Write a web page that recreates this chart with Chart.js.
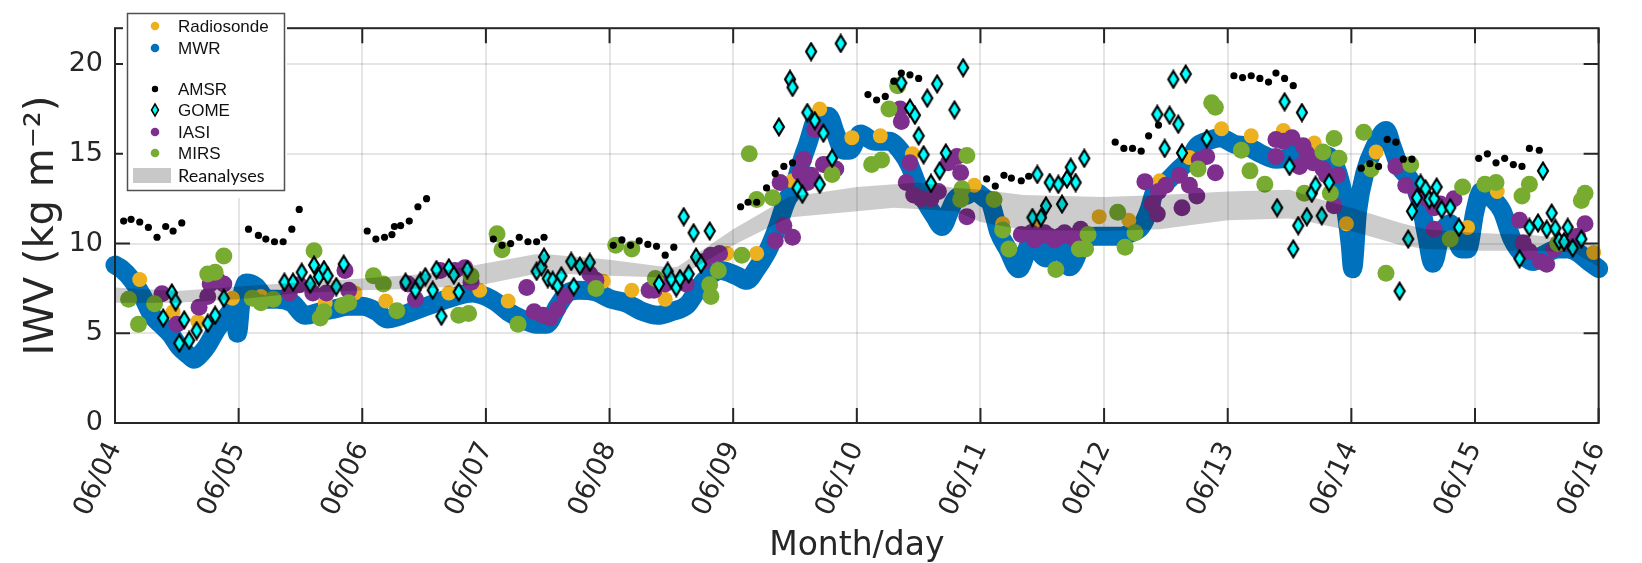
<!DOCTYPE html>
<html>
<head>
<meta charset="utf-8">
<title>IWV</title>
<script src="https://cdn.jsdelivr.net/npm/chart.js@4.4.0/dist/chart.umd.min.js"></script>
<style>
  html, body { margin: 0; padding: 0; background: #fff; }
</style>
</head>
<body>
<canvas id="iwvChart" width="1642" height="563"></canvas>
<script>
// x values are days since 06/04 00:00, y values are IWV in kg m^-2
const dayLabels = ['06/04', '06/05', '06/06', '06/07', '06/08', '06/09', '06/10',
                   '06/11', '06/12', '06/13', '06/14', '06/15', '06/16'];
const iwvTicks = [0, 5, 10, 15, 20];

const mwr = [
  [0.00, 8.8], [0.05, 8.6], [0.14, 7.95], [0.22, 7.1], [0.30, 6.0], [0.37, 5.5], [0.45, 4.95],
  [0.52, 4.25], [0.60, 3.75], [0.64, 3.55], [0.70, 3.9], [0.74, 4.25], [0.83, 5.3], [0.91, 6.0],
  [0.97, 6.4], [0.99, 5.0], [1.02, 6.8], [1.06, 7.8], [1.14, 7.6], [1.23, 6.9], [1.31, 6.9],
  [1.43, 6.7], [1.54, 6.0], [1.66, 6.2], [1.77, 6.35], [1.89, 6.5], [2.00, 6.5], [2.12, 6.2],
  [2.20, 5.8], [2.32, 6.0], [2.46, 6.35], [2.60, 6.7], [2.75, 7.05], [2.89, 7.25], [3.00, 7.05],
  [3.09, 6.7], [3.18, 6.2], [3.29, 5.8], [3.41, 5.5], [3.49, 5.5], [3.58, 6.5], [3.66, 7.25],
  [3.75, 7.4], [3.89, 7.3], [4.01, 6.9], [4.13, 6.7], [4.27, 6.2], [4.39, 6.0], [4.50, 6.2],
  [4.63, 6.6], [4.70, 7.3], [4.77, 7.95], [4.90, 8.5], [5.03, 8.2], [5.11, 7.95], [5.19, 8.6],
  [5.26, 9.35], [5.30, 9.9], [5.36, 10.95], [5.40, 11.8], [5.44, 12.5], [5.49, 13.05], [5.54, 14.3],
  [5.60, 15.5], [5.68, 17.0], [5.77, 17.1],
  [5.83, 16.1], [5.89, 15.2], [5.94, 15.2], [6.03, 16.1], [6.14, 15.7], [6.26, 15.7], [6.35, 15.2],
  [6.43, 14.3], [6.49, 13.25], [6.55, 12.4], [6.63, 11.5], [6.69, 10.95], [6.75, 11.8], [6.80, 12.5],
  [6.89, 12.7], [6.95, 12.9], [7.04, 12.5], [7.08, 12.3], [7.15, 10.6], [7.22, 9.7], [7.31, 8.6],
  [7.41, 10.05], [7.53, 9.2], [7.60, 10.0], [7.67, 9.6], [7.72, 8.7], [7.84, 10.2], [7.93, 10.4],
  [8.05, 10.4], [8.13, 10.4], [8.22, 10.6], [8.30, 10.95], [8.36, 11.8], [8.41, 12.9], [8.50, 13.4],
  [8.60, 14.1], [8.69, 14.7], [8.75, 15.4], [8.83, 15.7], [8.94, 15.9], [9.05, 15.55], [9.16, 15.4],
  [9.27, 15.0], [9.39, 14.7], [9.50, 14.8], [9.60, 15.2], [9.72, 15.0], [9.83, 14.8], [9.89, 13.95],
  [9.94, 12.5], [9.99, 10.0], [10.01, 8.6], [10.05, 11.8], [10.11, 13.95], [10.19, 15.4], [10.28, 16.3],
  [10.33, 15.4], [10.39, 14.3], [10.47, 13.6], [10.55, 12.5], [10.61, 10.4], [10.66, 8.9], [10.72, 10.4],
  [10.80, 11.1], [10.89, 9.7], [10.94, 9.7], [11.00, 11.8], [11.05, 12.9], [11.14, 12.5], [11.22, 11.8],
  [11.30, 10.25], [11.39, 9.35], [11.47, 9.0], [11.55, 9.35], [11.67, 9.7], [11.75, 9.7], [11.83, 9.5],
  [11.92, 9.0], [12.00, 8.6]
];

const radiosonde = [
  [0.20, 8.0], [0.47, 6.2], [0.67, 5.65], [0.95, 6.95], [1.18, 7.05], [1.70, 6.7], [1.94, 7.25],
  [2.19, 6.8], [2.70, 7.25], [2.95, 7.4], [3.18, 6.8], [3.95, 7.9], [4.18, 7.4], [4.45, 6.9],
  [4.95, 9.45], [5.19, 9.45], [5.48, 13.5], [5.70, 17.5], [5.96, 15.9], [6.19, 16.0], [6.45, 15.0],
  [6.95, 13.25], [7.18, 11.1], [7.44, 10.8], [7.96, 11.5], [8.20, 11.3], [8.45, 13.5], [8.69, 14.8],
  [8.95, 16.4], [9.19, 16.0], [9.45, 16.3], [9.70, 15.6], [9.96, 11.1], [10.20, 15.1], [10.94, 10.9],
  [11.18, 12.9], [11.96, 9.5]
];

const amsr = [
  [0.07, 11.25], [0.13, 11.35], [0.20, 11.2], [0.27, 10.9], [0.34, 10.35], [0.41, 10.95], [0.47, 10.7],
  [0.54, 11.15], [1.08, 10.8], [1.16, 10.45], [1.22, 10.25], [1.29, 10.1], [1.36, 10.1], [1.43, 10.8],
  [1.49, 11.9], [2.04, 10.7], [2.11, 10.25], [2.18, 10.35], [2.24, 10.5], [2.26, 10.95], [2.31, 11.0],
  [2.38, 11.25], [2.45, 12.05], [2.52, 12.5], [3.06, 10.25], [3.13, 9.9], [3.20, 10.0], [3.27, 10.35],
  [3.34, 10.1], [3.41, 10.1], [3.47, 10.35], [4.03, 9.9], [4.10, 10.2], [4.17, 9.9], [4.24, 10.15],
  [4.31, 9.95], [4.38, 9.85], [4.45, 9.35], [4.52, 9.8], [5.06, 12.05], [5.12, 12.3], [5.19, 12.3],
  [5.27, 13.1], [5.34, 13.9], [5.41, 14.3], [5.48, 14.5], [6.09, 18.3], [6.16, 18.0], [6.23, 18.2],
  [6.30, 19.05], [6.36, 19.5], [6.43, 19.4], [6.50, 19.2], [7.05, 13.6], [7.12, 13.2], [7.19, 13.8],
  [7.25, 13.65], [7.33, 13.5], [7.39, 13.75], [8.09, 15.65], [8.16, 15.3], [8.23, 15.3], [8.30, 15.15],
  [8.36, 16.0], [8.44, 16.6], [9.05, 19.35], [9.12, 19.25], [9.19, 19.35], [9.26, 19.2], [9.33, 19.0],
  [9.39, 19.5], [9.46, 19.2], [9.53, 18.8], [10.08, 14.2], [10.15, 14.45], [10.22, 14.3], [10.29, 15.8],
  [10.36, 15.65], [10.42, 14.7], [10.49, 14.7], [11.03, 14.75], [11.10, 15.0], [11.17, 14.5],
  [11.24, 14.75], [11.31, 14.4], [11.38, 14.3], [11.44, 15.3], [11.52, 15.2]
];

const gome = [
  [0.39, 5.85], [0.46, 7.25], [0.49, 6.75], [0.52, 4.45], [0.56, 5.75], [0.60, 4.6], [0.66, 5.15],
  [0.75, 5.55], [0.81, 6.0], [0.88, 6.95], [1.37, 7.85], [1.44, 7.85], [1.51, 8.4], [1.58, 7.75],
  [1.61, 8.8], [1.65, 8.15], [1.69, 8.55], [1.72, 8.2], [1.79, 7.6], [1.85, 8.85], [2.35, 7.85],
  [2.43, 7.4], [2.47, 7.9], [2.51, 8.15], [2.57, 7.4], [2.60, 8.55], [2.64, 5.95], [2.70, 8.65],
  [2.74, 8.25], [2.78, 7.3], [2.85, 8.55], [3.41, 8.45], [3.45, 8.7], [3.47, 9.25], [3.50, 8.05],
  [3.54, 7.95], [3.58, 7.65], [3.61, 8.2], [3.69, 9.0], [3.71, 7.6], [3.76, 8.75], [3.84, 8.95],
  [4.40, 7.75], [4.47, 8.45], [4.50, 8.0], [4.54, 7.55], [4.57, 8.05], [4.60, 11.5], [4.64, 8.3],
  [4.68, 10.6], [4.70, 9.25], [4.74, 8.85], [4.81, 10.7], [5.37, 16.5], [5.46, 19.15], [5.48, 18.7],
  [5.52, 13.1], [5.56, 12.75], [5.60, 17.3], [5.63, 20.7], [5.66, 16.85], [5.70, 13.3], [5.73, 16.15],
  [5.80, 14.75], [5.87, 21.15], [6.36, 18.95], [6.43, 17.55], [6.47, 17.15], [6.50, 16.0], [6.54, 14.95],
  [6.57, 18.1], [6.60, 13.35], [6.65, 18.9], [6.67, 14.05], [6.72, 15.05], [6.79, 17.45], [6.86, 19.8],
  [7.42, 11.45], [7.46, 13.85], [7.49, 11.45], [7.53, 12.1], [7.56, 13.4], [7.63, 13.3], [7.66, 12.2],
  [7.70, 13.6], [7.73, 14.25], [7.77, 13.4], [7.84, 14.75], [8.43, 17.2], [8.49, 15.3], [8.53, 17.15],
  [8.56, 19.15], [8.60, 16.65], [8.63, 15.05], [8.66, 19.45], [8.83, 15.85], [9.40, 12.0], [9.46, 17.9],
  [9.50, 14.3], [9.53, 9.7], [9.57, 11.0], [9.60, 17.3], [9.64, 11.5], [9.68, 12.8], [9.71, 13.25],
  [9.76, 11.55], [9.82, 13.4], [10.39, 7.35], [10.46, 10.25], [10.49, 11.8], [10.53, 12.55],
  [10.56, 13.35], [10.60, 13.05], [10.63, 12.45], [10.67, 12.5], [10.69, 13.15], [10.73, 11.9],
  [10.80, 12.0], [10.87, 10.9], [11.36, 9.15], [11.44, 10.9], [11.51, 11.15], [11.55, 14.05],
  [11.58, 10.8], [11.62, 11.7], [11.65, 10.85], [11.68, 10.15], [11.72, 10.1], [11.75, 10.9],
  [11.79, 9.75], [11.86, 10.25]
];

const iasi = [
  [0.38, 7.2], [0.50, 5.5], [0.68, 6.45], [0.75, 7.05], [0.77, 7.75], [0.83, 7.95], [0.88, 7.75],
  [1.41, 7.25], [1.49, 7.7], [1.60, 7.25], [1.71, 7.25], [1.86, 8.5], [1.89, 7.4], [2.37, 7.75],
  [2.43, 6.9], [2.63, 8.5], [2.75, 8.5], [2.83, 8.65], [2.88, 7.85], [3.33, 7.55], [3.39, 6.2],
  [3.46, 6.0], [3.52, 5.85], [3.58, 6.35], [3.64, 7.05], [3.84, 8.3], [3.89, 7.95], [4.32, 7.4],
  [4.36, 7.4], [4.45, 7.75], [4.62, 7.75], [4.76, 9.0], [4.82, 9.35], [4.89, 9.45], [5.34, 10.15],
  [5.38, 13.4], [5.41, 11.0], [5.54, 13.95], [5.48, 10.35], [5.57, 14.7], [5.60, 13.4], [5.63, 13.8],
  [5.66, 16.35], [5.73, 14.4], [5.77, 14.4], [5.83, 14.15], [6.35, 17.5], [6.36, 16.8], [6.40, 13.4],
  [6.43, 14.5], [6.46, 12.7], [6.52, 12.5], [6.60, 12.5], [6.66, 12.9], [6.74, 14.5], [6.81, 14.85],
  [6.84, 13.95], [6.89, 11.5], [7.33, 10.5], [7.41, 10.6], [7.44, 10.2], [7.47, 10.4], [7.52, 10.6],
  [7.56, 10.4], [7.60, 10.2], [7.64, 10.4], [7.68, 10.6], [7.73, 10.4], [7.77, 10.2], [7.81, 10.8],
  [8.33, 13.45], [8.39, 12.2], [8.43, 11.65], [8.44, 12.9], [8.50, 13.25], [8.61, 13.8], [8.63, 12.0],
  [8.69, 13.25], [8.75, 12.65], [8.77, 14.65], [8.83, 14.85], [8.90, 13.95], [9.39, 15.8], [9.39, 14.85],
  [9.45, 15.7], [9.52, 15.9], [9.58, 14.3], [9.61, 15.45], [9.64, 15.0], [9.69, 14.5], [9.77, 14.15],
  [9.80, 13.8], [9.86, 12.1], [9.89, 13.8], [10.36, 14.3], [10.44, 13.25], [10.53, 12.7], [10.61, 12.5],
  [10.67, 12.0], [10.67, 10.8], [10.72, 12.2], [10.83, 12.5], [11.36, 11.3], [11.39, 10.05],
  [11.44, 9.55], [11.53, 9.0], [11.58, 8.85], [11.64, 9.7], [11.72, 10.05], [11.83, 10.4], [11.89, 11.1]
];

const mirs = [
  [0.11, 6.9], [0.19, 5.5], [0.32, 6.65], [0.75, 8.3], [0.81, 8.4], [0.88, 9.3], [1.11, 6.95],
  [1.18, 6.7], [1.28, 6.9], [1.61, 9.6], [1.66, 5.85], [1.69, 6.2], [1.84, 6.55], [1.89, 6.7],
  [2.09, 8.2], [2.17, 7.75], [2.28, 6.25], [2.78, 6.0], [2.86, 6.1], [2.88, 8.2], [3.09, 10.55],
  [3.13, 9.65], [3.26, 5.5], [3.89, 7.5], [4.05, 9.9], [4.18, 9.7], [4.37, 8.05], [4.81, 7.7],
  [4.82, 7.05], [4.88, 8.5], [5.07, 9.35], [5.13, 15.0], [5.19, 12.45], [5.32, 12.55], [5.80, 13.85],
  [6.12, 14.4], [6.20, 14.65], [6.26, 17.5], [6.33, 18.8], [6.84, 12.45], [6.85, 13.05], [6.89, 14.9],
  [7.11, 12.45], [7.18, 10.75], [7.23, 9.7], [7.61, 8.55], [7.80, 9.7], [7.85, 9.7], [7.87, 10.5],
  [8.11, 11.75], [8.17, 9.8], [8.25, 10.6], [8.76, 14.15], [8.87, 17.85], [8.90, 17.6], [9.11, 15.2],
  [9.18, 14.05], [9.30, 13.3], [9.62, 12.8], [9.77, 15.1], [9.83, 12.8], [9.86, 15.85], [9.90, 14.75],
  [10.10, 16.2], [10.16, 14.15], [10.28, 8.35], [10.48, 14.4], [10.80, 10.25], [10.90, 13.15],
  [11.08, 13.3], [11.17, 13.4], [11.38, 12.65], [11.44, 13.3], [11.67, 10.0], [11.86, 12.4], [11.89, 12.8]
];

// reanalyses envelope (max / min of the products)
const reanalysisHigh = [
  [0, 7.55], [0.5, 7.35], [1.0, 7.6], [1.5, 7.85], [2.0, 8.05], [2.5, 8.3], [3.0, 8.9], [3.4, 9.4],
  [3.5, 9.4], [4.0, 9.1], [4.5, 8.65], [4.55, 8.7], [5.0, 10.8], [5.45, 12.6], [6.0, 13.15], [6.5, 13.4],
  [6.8, 13.1], [7.0, 13.0], [7.35, 12.7], [8.0, 12.6], [8.45, 12.7], [9.0, 12.9], [9.5, 13.0],
  [9.7, 12.55], [10.0, 12.0], [10.4, 11.15], [10.6, 10.8], [11.0, 10.6], [11.5, 10.45], [11.8, 10.2],
  [12.0, 9.9]
];
const reanalysisLow = [
  [0, 6.7], [0.5, 6.7], [1.0, 6.9], [1.5, 7.25], [2.0, 7.4], [2.5, 7.5], [3.0, 7.75], [3.4, 8.3],
  [3.5, 8.35], [4.0, 8.2], [4.5, 8.1], [4.55, 8.1], [5.0, 9.9], [5.45, 11.45], [6.0, 11.8], [6.3, 12.0],
  [6.8, 11.8], [7.0, 11.2], [7.35, 10.75], [8.0, 10.7], [8.45, 10.8], [9.0, 11.3], [9.5, 11.4],
  [9.7, 11.15], [10.0, 10.7], [10.4, 9.9], [10.6, 9.7], [11.0, 9.6], [11.5, 9.6], [11.8, 9.5],
  [12.0, 8.7]
];

const colors = {
  radiosonde: '#EDB120',
  mwr: '#0072BD',
  amsr: '#000000',
  gome: '#00FFFF',
  iasi: '#7E2F8E',
  mirs: '#77AC30',
  band: 'rgba(0,0,0,0.2)'
};
const axisColor = '#262626';
const gridColor = 'rgba(38,38,38,0.12)';
const font = "'DejaVu Sans', sans-serif";

const toXY = pts => pts.map(([x, y]) => ({ x, y }));

// tall diamond used for GOME points
function diamondMarker(w, h, lw) {
  const c = document.createElement('canvas');
  c.width = w + lw * 2;
  c.height = h + lw * 2;
  const g = c.getContext('2d');
  const cx = c.width / 2, cy = c.height / 2;
  g.beginPath();
  g.moveTo(cx, cy - h / 2);
  g.lineTo(cx + w / 2, cy);
  g.lineTo(cx, cy + h / 2);
  g.lineTo(cx - w / 2, cy);
  g.closePath();
  g.fillStyle = colors.gome;
  g.fill();
  g.lineWidth = lw;
  g.strokeStyle = '#000';
  g.stroke();
  return c;
}
const gomeMarker = diamondMarker(10, 16.5, 2.2);

// box around the axes plus inward tick marks
const axesBox = {
  id: 'axesBox',
  afterDatasetsDraw(chart) {
    const { ctx, chartArea: a, scales: { x, y } } = chart;
    ctx.save();
    ctx.strokeStyle = axisColor;
    ctx.lineWidth = 2;
    ctx.beginPath();
    dayLabels.forEach((_, i) => {
      const px = x.getPixelForValue(i);
      ctx.moveTo(px, a.bottom); ctx.lineTo(px, a.bottom - 15);
      ctx.moveTo(px, a.top); ctx.lineTo(px, a.top + 15);
    });
    iwvTicks.forEach(v => {
      const py = y.getPixelForValue(v);
      ctx.moveTo(a.left, py); ctx.lineTo(a.left + 15, py);
      ctx.moveTo(a.right, py); ctx.lineTo(a.right - 15, py);
    });
    ctx.stroke();
    ctx.strokeRect(a.left, a.top, a.right - a.left, a.bottom - a.top);
    ctx.restore();
  }
};

// legend box in the upper left corner, with a gap between ground and satellite products
const legendRows = [
  { label: 'Radiosonde', kind: 'dot', color: colors.radiosonde, y: 26 },
  { label: 'MWR', kind: 'dot', color: colors.mwr, y: 48 },
  { label: 'AMSR', kind: 'small', color: colors.amsr, y: 89 },
  { label: 'GOME', kind: 'diamond', color: colors.gome, y: 110 },
  { label: 'IASI', kind: 'dot', color: colors.iasi, y: 132 },
  { label: 'MIRS', kind: 'dot', color: colors.mirs, y: 153 },
  { label: 'Reanalyses', kind: 'band', color: '#c8c8c8', y: 175 }
];
const boxLegend = {
  id: 'boxLegend',
  afterDraw(chart) {
    const ctx = chart.ctx;
    ctx.save();
    ctx.fillStyle = '#fff';
    ctx.fillRect(123, 9, 164, 189);
    ctx.strokeStyle = '#505050';
    ctx.lineWidth = 1.5;
    ctx.strokeRect(127.5, 13.5, 157, 177);
    ctx.textBaseline = 'middle';
    legendRows.forEach(r => {
      const mx = 155;
      if (r.kind === 'dot' || r.kind === 'small') {
        ctx.beginPath();
        ctx.arc(mx, r.y, r.kind === 'dot' ? 4.3 : 3.2, 0, Math.PI * 2);
        ctx.fillStyle = r.color;
        ctx.fill();
      } else if (r.kind === 'diamond') {
        ctx.beginPath();
        ctx.moveTo(mx, r.y - 6); ctx.lineTo(mx + 3.5, r.y); ctx.lineTo(mx, r.y + 6); ctx.lineTo(mx - 3.5, r.y);
        ctx.closePath();
        ctx.fillStyle = r.color;
        ctx.fill();
        ctx.lineWidth = 1.5;
        ctx.strokeStyle = '#000';
        ctx.stroke();
      } else {
        ctx.fillStyle = r.color;
        ctx.fillRect(133, r.y - 7, 38, 15);
      }
      ctx.fillStyle = '#111';
      ctx.font = r.kind === 'band' ? "18px Lato, sans-serif" : "17px Arial, 'Liberation Sans', sans-serif";
      ctx.fillText(r.label, 178, r.y + 1);
    });
    ctx.restore();
  }
};

const scatterSet = (label, pts, color, radius, order) => ({
  label, data: toXY(pts), order, clip: 12,
  pointRadius: radius, pointBorderWidth: 0,
  backgroundColor: color, borderColor: color, showLine: false
});

new Chart(document.getElementById('iwvChart').getContext('2d'), {
  type: 'scatter',
  data: {
    datasets: [
      {
        label: 'MWR', data: toXY(mwr), order: 7, clip: 12, showLine: true,
        borderColor: colors.mwr, borderWidth: 19, borderCapStyle: 'round', borderJoinStyle: 'round',
        cubicInterpolationMode: 'monotone', pointRadius: 0, fill: false
      },
      scatterSet('Radiosonde', radiosonde, colors.radiosonde, 7.5, 6),
      scatterSet('IASI', iasi, colors.iasi, 8.5, 5),
      scatterSet('MIRS', mirs, colors.mirs, 8.5, 4),
      scatterSet('AMSR', amsr, colors.amsr, 3.6, 3),
      {
        label: 'GOME', data: toXY(gome), order: 2, clip: 12, showLine: false,
        pointStyle: gomeMarker, pointRadius: 9
      },
      {
        label: 'Reanalyses', data: toXY(reanalysisHigh), order: 1, showLine: true,
        borderColor: 'transparent', borderWidth: 1, pointRadius: 0,
        fill: '+1', backgroundColor: colors.band
      },
      {
        label: 'Reanalyses (low)', data: toXY(reanalysisLow), order: 1, showLine: true,
        borderColor: 'transparent', borderWidth: 1, pointRadius: 0, fill: false
      }
    ]
  },
  options: {
    responsive: false,
    animation: false,
    events: [],
    layout: { padding: { left: 0, right: 38, top: 7, bottom: 0 } },
    plugins: { legend: { display: false }, tooltip: { enabled: false } },
    scales: {
      x: {
        type: 'linear', min: 0, max: 12,
        afterFit: s => { s.height = 140; },
        border: { display: false },
        grid: { color: gridColor, lineWidth: 2, drawTicks: false },
        ticks: {
          stepSize: 1, autoSkip: false, minRotation: 65, maxRotation: 65, padding: 14,
          color: axisColor, font: { family: font, size: 27 },
          callback: v => dayLabels[v]
        },
        title: {
          display: true, text: 'Month/day', color: axisColor,
          font: { family: font, size: 33, lineHeight: 1 }, padding: { top: 0, bottom: 0 }
        }
      },
      y: {
        min: 0, max: 22,
        afterFit: s => { s.width = 115; },
        border: { display: false },
        grid: { color: gridColor, lineWidth: 2, drawTicks: false },
        ticks: {
          stepSize: 5, includeBounds: false, padding: 12,
          color: axisColor, font: { family: font, size: 27 }
        },
        title: {
          display: true, text: 'IWV (kg m\u207B\u00B2)', color: axisColor,
          font: { family: font, size: 40 }, padding: { top: 19, bottom: 0 }
        }
      }
    }
  },
  plugins: [axesBox, boxLegend]
});
</script>
</body>
</html>
